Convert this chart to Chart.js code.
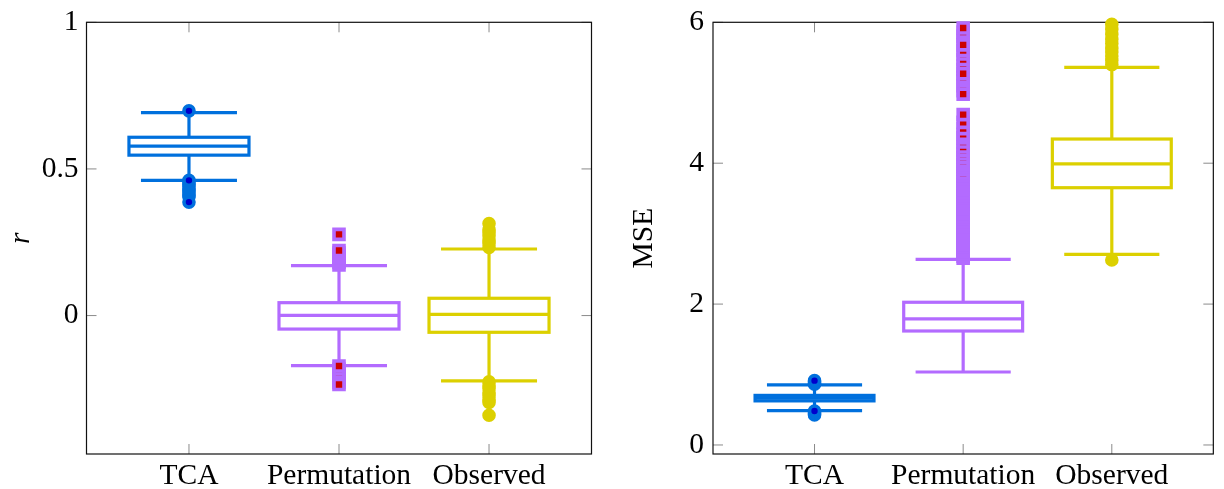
<!DOCTYPE html>
<html>
<head>
<meta charset="utf-8">
<script src="https://cdn.jsdelivr.net/npm/chart.js@4.4.0/dist/chart.umd.min.js"></script>
<style>
  html, body { margin: 0; padding: 0; background: #fff; }
  #wrap { position: relative; width: 1224px; height: 489px; }
  canvas { position: absolute; top: 0; }
  #left { left: 0; }
  #right { left: 612px; }
</style>
</head>
<body>
<div id="wrap">
  <canvas id="left" width="612" height="489"></canvas>
  <canvas id="right" width="612" height="489"></canvas>
</div>
<script>
// ---------- data ----------
const categories = ['TCA', 'Permutation', 'Observed'];

// left panel: correlation r
const rTicks = [0, 0.5, 1];
const rLowerWhisker = [0.461, -0.171, -0.223];
const rQ1 = [0.547, -0.046, -0.057];
const rMedian = [0.578, 0.001, 0.004];
const rQ3 = [0.608, 0.044, 0.059];
const rUpperWhisker = [0.692, 0.170, 0.227];
const rOutliersTCA = [0.405, 0.411, 0.418, 0.426, 0.431, 0.439, 0.447, 0.452, 0.461, 0.387, 0.698];
const rOutliersPermutation = [0.173, 0.182, 0.188, 0.197, 0.206, 0.213, 0.222, 0.277,
  -0.228, -0.219, -0.211, -0.200, -0.193, -0.182, -0.172, -0.235];
const rOutliersObserved = [0.232, 0.246, 0.257, 0.272, 0.283, 0.293, 0.314,
  -0.226, -0.239, -0.249, -0.263, -0.273, -0.286, -0.296, -0.340];

// right panel: MSE
const mseTicks = [0, 2, 4, 6];
const mseLowerWhisker = [0.487, 1.036, 2.707];
const mseQ1 = [0.626, 1.618, 3.652];
const mseMedian = [0.665, 1.789, 3.989];
const mseQ3 = [0.704, 2.026, 4.343];
const mseUpperWhisker = [0.852, 2.636, 5.360];
const mseOutliersTCA = [0.862, 0.878, 0.896, 0.913, 0.426, 0.441, 0.454, 0.471, 0.483];
const mseOutliersPermutation = [
  2.65, 2.68, 2.71, 2.74, 2.78, 2.81, 2.84, 2.88, 2.92, 2.95, 2.99, 3.02, 3.06, 3.10, 3.13, 3.17,
  3.21, 3.24, 3.28, 3.32, 3.35, 3.39, 3.43, 3.47, 3.51, 3.54, 3.58, 3.62, 3.66, 3.70, 3.74, 3.78,
  3.82, 3.86, 3.91, 3.95, 3.98, 4.03, 4.08, 4.13, 4.18, 4.23, 4.30, 4.36, 4.41, 4.49, 4.58, 4.69,
  5.03, 5.10, 5.17, 5.22, 5.33, 5.38, 5.47, 5.55, 5.60, 5.74, 5.80, 5.86, 5.92,
  4.98, 5.27, 5.68];
const mseOutliersObserved = [5.40, 5.46, 5.52, 5.58, 5.63, 5.70, 5.76, 5.83, 5.90, 5.97, 2.626];

// ---------- styles ----------
const FONT = "'Liberation Serif', 'Times New Roman', serif";
const FONT_SIZE = 29.5;
const BLUE = '#0070dd', BLUE_FILL = '#0000cc';
const PURPLE = '#b36bff', RED = '#cc0000';
const YELLOW = '#dcd000';
const COLORS = [BLUE, PURPLE, YELLOW];
const BOX_WIDTH = 0.8, CAP_WIDTH = 0.64, LINE_W = 3.2, TICK_LEN = 10;

const boxPlugin = {
  id: 'boxes',
  beforeDatasetsDraw(chart, args, o) {
    const { ctx, chartArea: a, scales: { x, y } } = chart;
    const line = (x1, y1, x2, y2) => { ctx.beginPath(); ctx.moveTo(x1, y1); ctx.lineTo(x2, y2); ctx.stroke(); };
    ctx.save();
    // inward tick marks on all four sides
    ctx.strokeStyle = '#8a8a8a';
    ctx.lineWidth = 1;
    y.ticks.forEach(t => {
      const py = y.getPixelForValue(t.value);
      line(a.left, py, a.left + TICK_LEN, py);
      line(a.right - TICK_LEN, py, a.right, py);
    });
    x.ticks.forEach(t => {
      const px = x.getPixelForValue(t.value);
      line(px, a.bottom, px, a.bottom - TICK_LEN);
      line(px, a.top, px, a.top + TICK_LEN);
    });
    // frame
    ctx.strokeStyle = '#111';
    ctx.lineWidth = 1.2;
    ctx.strokeRect(a.left, a.top, a.right - a.left, a.bottom - a.top);
    // box plots
    o.median.forEach((m, i) => {
      ctx.strokeStyle = COLORS[i];
      ctx.lineWidth = LINE_W;
      ctx.lineCap = 'butt';
      const cx = x.getPixelForValue(i);
      const bl = x.getPixelForValue(i - BOX_WIDTH / 2), br = x.getPixelForValue(i + BOX_WIDTH / 2);
      const wl = x.getPixelForValue(i - CAP_WIDTH / 2), wr = x.getPixelForValue(i + CAP_WIDTH / 2);
      const pLo = y.getPixelForValue(o.lo[i]), pHi = y.getPixelForValue(o.hi[i]);
      const pQ1 = y.getPixelForValue(o.q1[i]), pQ3 = y.getPixelForValue(o.q3[i]);
      const pMed = y.getPixelForValue(m);
      line(cx, pQ3, cx, pHi);
      line(cx, pQ1, cx, pLo);
      line(wl, pHi, wr, pHi);
      line(wl, pLo, wr, pLo);
      ctx.fillStyle = '#fff';
      ctx.fillRect(bl, pQ3, br - bl, pQ1 - pQ3);
      ctx.strokeRect(bl, pQ3, br - bl, pQ1 - pQ3);
      line(bl, pMed, br, pMed);
    });
    ctx.restore();
  }
};

function outlierDatasets(lists) {
  const styles = [
    { pointStyle: 'circle', radius: 5, borderWidth: 3.6, borderColor: BLUE, backgroundColor: BLUE_FILL },
    { pointStyle: 'rect', radius: 7.07, borderWidth: 3.6, borderColor: PURPLE, backgroundColor: RED },
    { pointStyle: 'circle', radius: 5, borderWidth: 3.6, borderColor: YELLOW, backgroundColor: YELLOW }
  ];
  return lists.map((vals, i) => Object.assign({
    data: vals.map(v => ({ x: i, y: v })),
    clip: false,
    hoverRadius: styles[i].radius
  }, styles[i]));
}

function makeChart(id, cfg) {
  return new Chart(document.getElementById(id), {
    type: 'scatter',
    data: { datasets: outlierDatasets(cfg.outliers) },
    options: {
      responsive: false,
      animation: false,
      events: [],
      layout: { padding: { left: 0, right: cfg.padRight, top: 22.3, bottom: 0 } },
      plugins: {
        legend: { display: false },
        tooltip: { enabled: false },
        boxes: cfg.box
      },
      scales: {
        x: {
          type: 'linear',
          min: -0.683, max: 2.683,
          afterBuildTicks: s => { s.ticks = categories.map((c, i) => ({ value: i })); },
          afterFit: s => { s.height = 35; s.paddingLeft = 0; s.paddingRight = 0; },
          grid: { display: false, drawTicks: false },
          border: { display: false },
          ticks: {
            autoSkip: false, maxRotation: 0, minRotation: 0,
            padding: 7,
            color: '#000',
            font: { family: FONT, size: FONT_SIZE, lineHeight: 1 },
            callback: v => categories[v]
          }
        },
        y: {
          type: 'linear',
          min: cfg.yMin, max: cfg.yMax,
          afterBuildTicks: s => { s.ticks = cfg.ticks.map(v => ({ value: v })); },
          afterFit: s => { s.width = cfg.yWidth; s.paddingTop = 0; s.paddingBottom = 0; },
          grid: { display: false, drawTicks: false },
          border: { display: false },
          ticks: {
            padding: cfg.tickPad,
            color: '#000',
            font: { family: FONT, size: FONT_SIZE, lineHeight: 1 },
            callback: v => String(v)
          },
          title: {
            display: true,
            text: cfg.title,
            color: '#000',
            padding: { top: cfg.titlePad, bottom: 0 },
            font: { family: FONT, size: FONT_SIZE, style: cfg.titleStyle, lineHeight: 1 }
          }
        }
      }
    },
    plugins: [boxPlugin]
  });
}

makeChart('left', {
  outliers: [rOutliersTCA, rOutliersPermutation, rOutliersObserved],
  box: { lo: rLowerWhisker, q1: rQ1, median: rMedian, q3: rQ3, hi: rUpperWhisker },
  ticks: rTicks, yMin: -0.472, yMax: 1,
  yWidth: 86.5, padRight: 20.5, tickPad: 8,
  title: 'r', titleStyle: 'italic', titlePad: 6
});

makeChart('right', {
  outliers: [mseOutliersTCA, mseOutliersPermutation, mseOutliersObserved],
  box: { lo: mseLowerWhisker, q1: mseQ1, median: mseMedian, q3: mseQ3, hi: mseUpperWhisker },
  ticks: mseTicks, yMin: -0.128, yMax: 6,
  yWidth: 101, padRight: 5, tickPad: 9,
  title: 'MSE', titleStyle: 'normal', titlePad: 17
});
</script>
</body>
</html>
